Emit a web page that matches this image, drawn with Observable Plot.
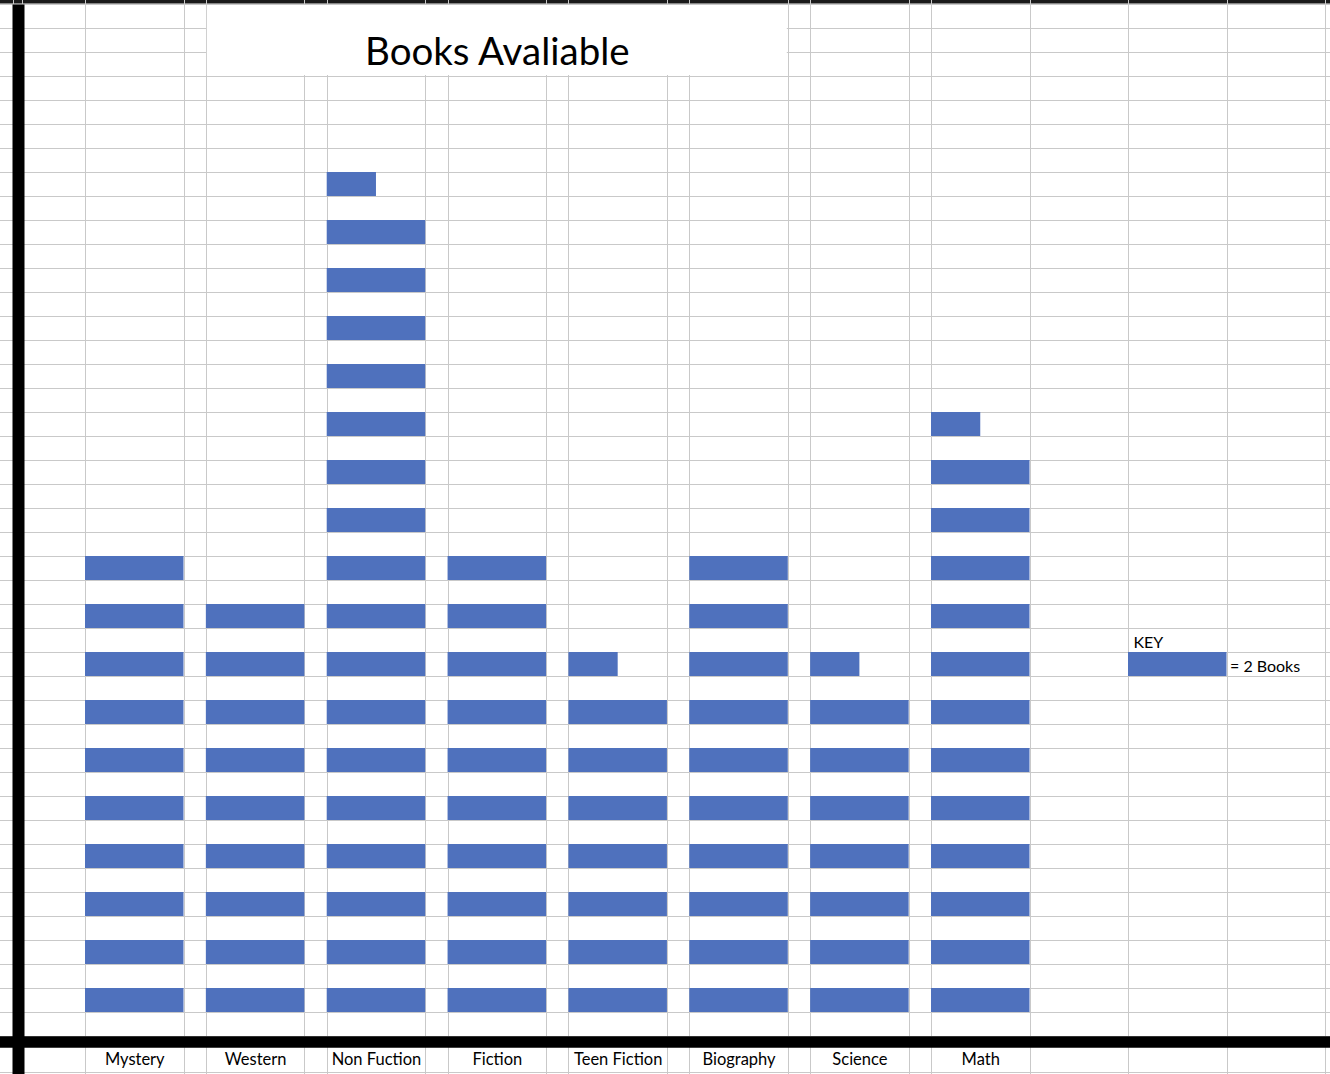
<!DOCTYPE html>
<html><head><meta charset="utf-8">
<script src="https://cdn.jsdelivr.net/npm/d3@7"></script>
<script src="https://cdn.jsdelivr.net/npm/@observablehq/plot@0.6"></script>
<style>html,body{margin:0;padding:0;background:#fff;overflow:hidden}#chart svg{display:block}</style>
</head><body><div id="chart"></div>
<script>
// ---- data ----
const categories = ["Mystery", "Western", "Non Fuction", "Fiction", "Teen Fiction", "Biography", "Science", "Math"];
const books = [20, 18, 35, 20, 15, 20, 15, 25];
const booksPerIcon = 2;
const titleText = "Books Avaliable";
const keyTitle = "KEY";
const keyLabel = "= 2 Books";

// ---- layout (spreadsheet-like grid) ----
const WIDTH = 1330, HEIGHT = 1074;
const X0 = 85, XLAST = 931;                 // left edges of first & last category cells (px)
const STEP = (XLAST - X0) / (categories.length - 1);
const CELL = 98.5 / STEP;                   // category cell width in x units
const px = p => (p - X0) / STEP;            // pixel -> x units helper for decorations
const BLUE = "#4f71bd", GRID = "#c9c9c9";
const FONT = "Lato, 'Open Sans', sans-serif";

const icons = [];
categories.forEach((c, i) => {
  const n = books[i] / booksPerIcon;
  for (let k = 0; k < Math.ceil(n); k++) {
    icons.push({category: c, i, k, frac: Math.min(1, n - k)});
  }
});

const rowLines = d3.range(-1, 43).concat([-2.5]);
const colLines = [px(13), px(22)];
categories.forEach((c, i) => colLines.push(i, i + CELL));
const lastEnd = categories.length - 1 + CELL;
for (let k = 1; k <= 3; k++) colLines.push(lastEnd + k * CELL);

const keyX1 = lastEnd + CELL, keyX2 = lastEnd + 2 * CELL;

const chart = Plot.plot({
  width: WIDTH,
  height: HEIGHT,
  margin: 0,
  style: {fontFamily: FONT, background: "white"},
  x: {domain: [0, categories.length - 1], range: [X0, XLAST], axis: null},
  y: {domain: [0, 42], range: [1012, 4], axis: null},
  marks: [
    // dark top strip
    Plot.rect([0], {x1: px(-5), x2: px(WIDTH + 5), y1: 42.02, y2: 42.4, fill: "#1a1a1a"}),
    // grid
    Plot.ruleY(rowLines, {y: d => d, stroke: GRID, strokeWidth: 1, shapeRendering: "crispEdges"}),
    Plot.ruleX(colLines, {x: d => d, stroke: GRID, strokeWidth: 1, shapeRendering: "crispEdges"}),
    // merged title cell
    Plot.rect([0], {x1: 1, x2: 5 + CELL, y1: 39, y2: 42, fill: "white",
      insetLeft: 1, insetRight: 1, insetTop: 1, insetBottom: 1}),
    // pictograph icons
    Plot.rect(icons, {
      x1: d => d.i, x2: d => d.i + CELL * d.frac,
      y1: d => 2 * d.k, y2: d => 2 * d.k + 1,
      fill: BLUE
    }),
    // key
    Plot.rect([keyLabel], {x1: keyX1, x2: keyX2, y1: 14, y2: 15, fill: BLUE}),
    Plot.text([keyTitle], {x: keyX1, y: 15.42, text: d => d, textAnchor: "start", dx: 5, fontSize: 16, fill: "black"}),
    Plot.text([keyLabel], {x: keyX2, y: 14.42, text: d => d, textAnchor: "start", dx: 3, fontSize: 16, fill: "black"}),
    // thick black axes
    Plot.ruleX([px(18)], {x: d => d, y1: -3, y2: 41.98, stroke: "black", strokeWidth: 12}),
    Plot.ruleY([-1.23], {y: d => d, stroke: "black", strokeWidth: 11.5}),
    // category labels
    Plot.text(categories, {x: (d, i) => i + CELL / 2, y: -1.98, text: d => d, fontSize: 16.5, fill: "black"}),
    // title
    Plot.text([titleText], {x: (1 + 5 + CELL) / 2, y: 40.0, text: d => d, fontSize: 38.5, fill: "black"})
  ]
});
document.getElementById("chart").appendChild(chart);
</script>
</body></html>
